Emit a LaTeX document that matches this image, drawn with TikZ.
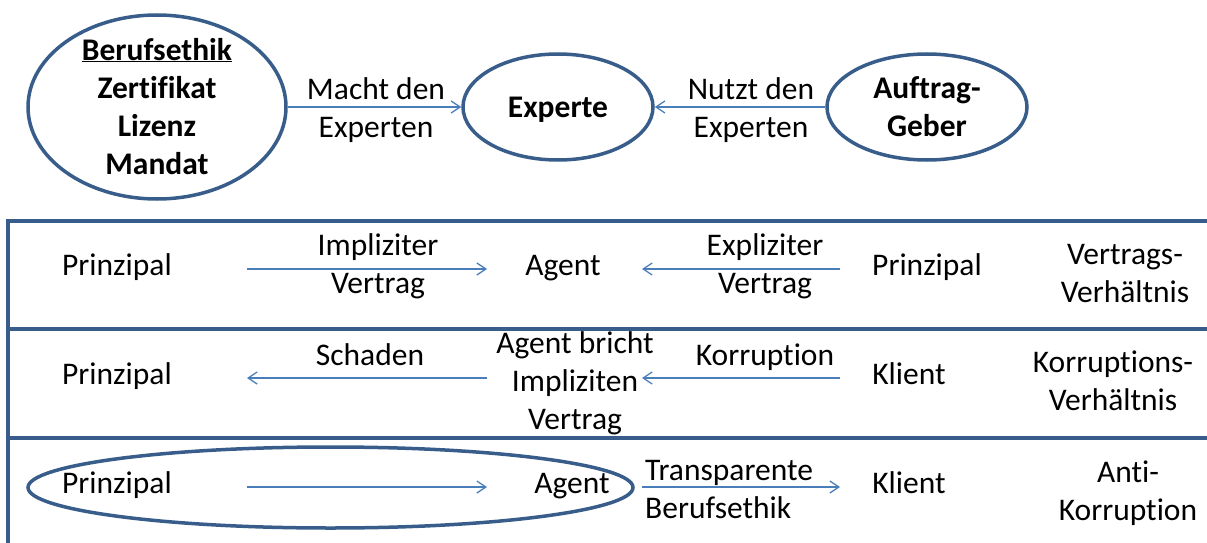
\documentclass[tikz,border=0pt]{standalone}
\usepackage{fontspec}
\setmainfont[Ligatures=NoCommon]{Carlito}
\usetikzlibrary{shapes.geometric,arrows.meta}
\definecolor{rim}{HTML}{385D8A}
\definecolor{link}{HTML}{4A7EBB}
\begin{document}
% text nodes sit on the baseline of their last line (anchor=base)
\begin{tikzpicture}[x=1pt,y=-1pt,
  txt/.style={font=\fontsize{31.5}{38}\selectfont, inner sep=0pt, align=center, anchor=base},
  bold/.style={txt, font=\fontsize{31.5}{38}\selectfont\bfseries},
  oval/.style={ellipse, draw=rim, line width=3.5pt, inner sep=0pt},
  link/.style={draw=link, line width=1.3pt, -{Straight Barb[length=9pt,width=12pt]}},
  rule/.style={draw=rim, line width=3.6pt}]
\useasboundingbox (0,0) rectangle (1207,543);

% ---- upper part: who makes and who uses the expert
\node[oval, minimum width=258pt, minimum height=184pt] (ethik) at (157,107) {};
\node[bold] (ethiktxt) at (157,174) {\underline{Berufsethik}\\Zertifikat\\Lizenz\\Mandat};
\node[oval, minimum width=190pt, minimum height=106pt] (experte) at (558,107) {};
\node[bold] (expertetxt) at (558,117) {Experte};
\node[oval, minimum width=200pt, minimum height=106pt] (geber) at (927,107) {};
\node[bold] (gebertxt) at (927,136) {Auftrag-\\Geber};

\draw[link] (ethik) -- (experte);
\draw[link] (geber) -- (experte);
\node[txt] (macht) at (376,137) {Macht den\\Experten};
\node[txt] (nutzt) at (751,137) {Nutzt den\\Experten};

% ---- table frame
\draw[rule] (1207,221) -- (8,221) -- (8,543);
\draw[rule] (8,329) -- (1207,329);
\draw[rule] (8,438) -- (1207,438);

% ---- row 1: contract relation
\node[txt] (p1) at (117,275) {Prinzipal};
\node[txt] (impl) at (378,293) {Impliziter\\Vertrag};
\node[txt] (a1) at (563,275) {Agent};
\node[txt] (expl) at (765,293) {Expliziter\\Vertrag};
\node[txt] (p1r) at (927,275) {Prinzipal};
\node[txt] (vv) at (1125,302) {Vertrags-\\Verhältnis};
\coordinate (r1a) at (247,269);
\coordinate (r1b) at (487,269);
\coordinate (r1c) at (642,269);
\coordinate (r1d) at (840,269);
\draw[link] (r1a) -- (r1b);
\draw[link] (r1d) -- (r1c);

% ---- row 2: corruption relation
\node[txt] (p2) at (117,384) {Prinzipal};
\node[txt] (schaden) at (370,365) {Schaden};
\node[txt] (a2) at (575,429) {Agent bricht\\Impliziten\\Vertrag};
\node[txt] (korr) at (765,365) {Korruption};
\node[txt] (k2) at (909,384) {Klient};
\node[txt] (kv) at (1113,410) {Korruptions-\\Verhältnis};
\coordinate (r2a) at (247,378);
\coordinate (r2b) at (487,378);
\coordinate (r2c) at (642,378);
\coordinate (r2d) at (840,378);
\draw[link] (r2b) -- (r2a);
\draw[link] (r2d) -- (r2c);

% ---- row 3: anti-corruption
\node[oval, minimum width=605pt, minimum height=81pt] (bund) at (330.5,487.5) {};
\node[txt] (p3) at (117,493.5) {Prinzipal};
\node[txt] (a3) at (572,493.5) {Agent};
\node[txt, anchor=base west, align=left] (transp) at (645,518.5) {Transparente\\Berufsethik};
\node[txt] (k3) at (909,493.5) {Klient};
\node[txt] (anti) at (1128,520) {Anti-\\Korruption};
\coordinate (r3a) at (247,487);
\coordinate (r3b) at (487,487);
\coordinate (r3c) at (642,487);
\coordinate (r3d) at (840,487);
\draw[link] (r3a) -- (r3b);
\draw[link] (r3c) -- (r3d);
\end{tikzpicture}
\end{document}
